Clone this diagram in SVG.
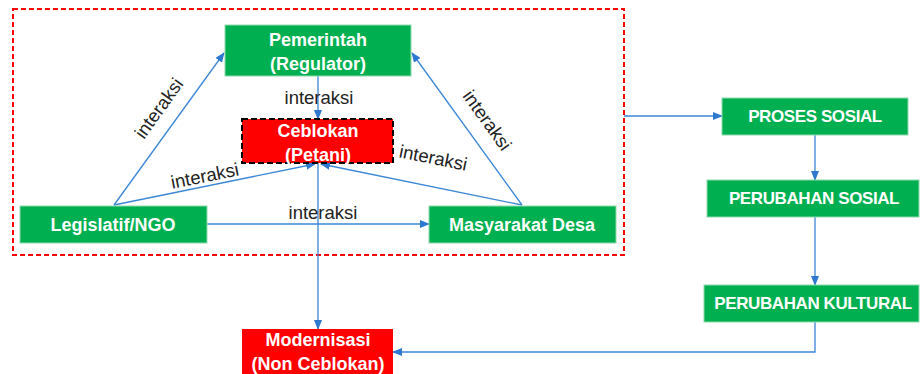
<svg xmlns="http://www.w3.org/2000/svg" width="920" height="374" viewBox="0 0 920 374">
<style>
.g{fill:#00B050;stroke:#8FD9AB;stroke-width:1}
.r{fill:#FF0000}
.w{fill:#fff;font-family:"Liberation Sans",Arial,sans-serif;font-weight:bold;font-size:18px;text-anchor:middle}
.wc{fill:#fff;font-family:"Liberation Sans",Arial,sans-serif;font-weight:bold;font-size:17px;text-anchor:middle;letter-spacing:-0.4px}
.l{fill:#222;font-family:"Liberation Sans",Arial,sans-serif;font-size:18.5px;text-anchor:middle}
.c{fill:none;stroke:#3B86D6;stroke-width:1.3}
</style>
<defs>
<marker id="ah" markerUnits="userSpaceOnUse" markerWidth="10" markerHeight="8" refX="9" refY="4" orient="auto">
<path d="M0,0 L10,4 L0,8 Z" fill="#2E78CF"/>
</marker>
</defs>
<rect id="frame" x="13" y="9" width="611" height="246" fill="none" stroke="#FF0000" stroke-width="2" stroke-dasharray="5,3"/>
<g id="connectors">
<line class="c" x1="114" y1="205" x2="224" y2="53" marker-end="url(#ah)"/>
<line class="c" x1="522" y1="205" x2="412" y2="53" marker-end="url(#ah)"/>
<line class="c" x1="318" y1="76" x2="318" y2="119" marker-end="url(#ah)"/>
<line class="c" x1="114" y1="205" x2="315" y2="164" marker-end="url(#ah)"/>
<line class="c" x1="522" y1="205" x2="321" y2="164" marker-end="url(#ah)"/>
<line class="c" x1="318" y1="163" x2="318" y2="329" marker-end="url(#ah)"/>
<line class="c" x1="207" y1="224" x2="429" y2="224" marker-end="url(#ah)"/>
<line class="c" x1="624" y1="116" x2="722" y2="116" marker-end="url(#ah)"/>
<line class="c" x1="815" y1="135" x2="815" y2="180" marker-end="url(#ah)"/>
<line class="c" x1="815" y1="217" x2="815" y2="285" marker-end="url(#ah)"/>
<polyline class="c" points="815,322 815,352 393,352" marker-end="url(#ah)"/>
<text class="l" transform="translate(164,112) rotate(-54.4)">interaksi</text>
<text class="l" x="319" y="104">interaksi</text>
<text class="l" transform="translate(206,182) rotate(-11.3)">interaksi</text>
<text class="l" transform="translate(432,164) rotate(11.3)">interaksi</text>
<text class="l" transform="translate(482,124) rotate(54.3)">interaksi</text>
<text class="l" x="323" y="219">interaksi</text>
</g>
<g id="pemerintah">
<rect class="g" x="225" y="25" width="186" height="51"/>
<text class="w" x="318" y="46">Pemerintah</text>
<text class="w" x="318" y="70">(Regulator)</text>
</g>
<g id="ceblokan">
<rect class="r" x="242" y="119" width="151" height="44" stroke="#000" stroke-width="2" stroke-dasharray="6,3"/>
<text class="w" x="318" y="137">Ceblokan</text>
<text class="w" x="318" y="161">(Petani)</text>
</g>
<g id="legislatif">
<rect class="g" x="20" y="206" width="187" height="37"/>
<text class="w" x="113" y="231">Legislatif/NGO</text>
</g>
<g id="masyarakat">
<rect class="g" x="429" y="206" width="187" height="37"/>
<text class="w" x="522" y="231">Masyarakat Desa</text>
</g>
<g id="modernisasi">
<rect class="r" x="242" y="329" width="151" height="45"/>
<text class="w" x="318" y="346">Modernisasi</text>
<text class="w" x="318" y="370">(Non Ceblokan)</text>
</g>
<g id="proses">
<rect class="g" x="722" y="98" width="186" height="37"/>
<text class="wc" x="815" y="122">PROSES SOSIAL</text>
</g>
<g id="perubahan-sosial">
<rect class="g" x="707" y="180" width="212" height="37"/>
<text class="wc" x="814" y="204">PERUBAHAN SOSIAL</text>
</g>
<g id="perubahan-kultural">
<rect class="g" x="704" y="285" width="215" height="37"/>
<text class="wc" x="813" y="309">PERUBAHAN KULTURAL</text>
</g>
</svg>
